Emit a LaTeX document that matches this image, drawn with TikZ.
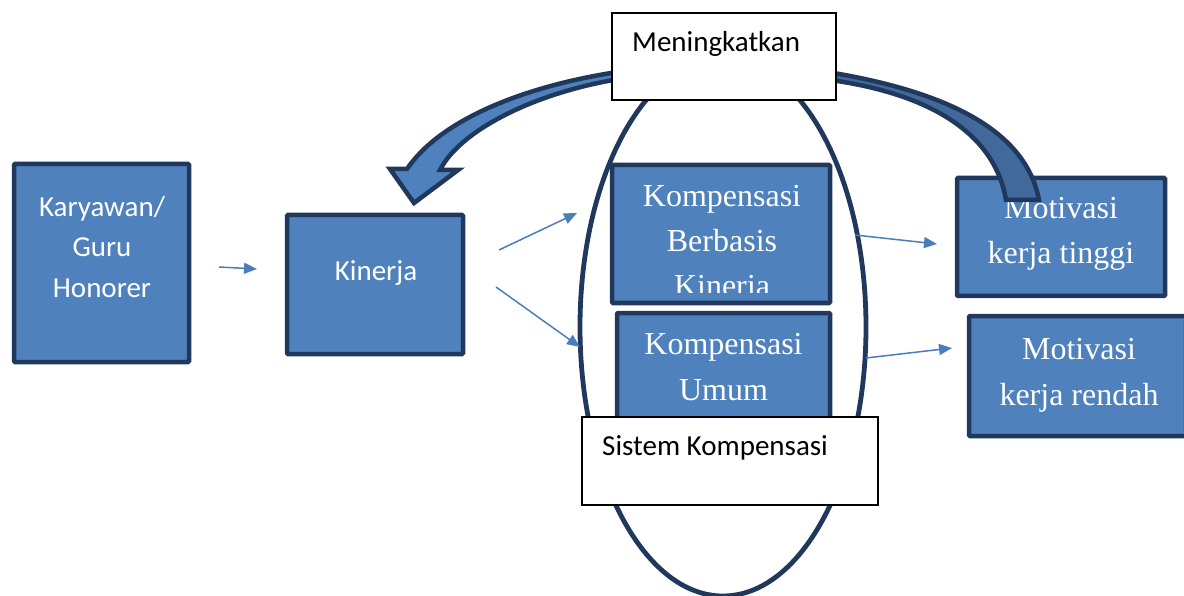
\documentclass[tikz,border=0pt]{standalone}
\usepackage{fontspec}
\setmainfont{Liberation Serif}
\newfontfamily\calfont{Carlito}
\usetikzlibrary{arrows.meta,shapes.geometric}
\definecolor{navy}{RGB}{31,56,91}
\definecolor{boxblue}{RGB}{79,129,189}
\definecolor{darkband}{RGB}{65,105,155}
\definecolor{arrowblue}{RGB}{74,126,187}
\begin{document}
\begin{tikzpicture}[x=1pt,y=-1pt,
  bluebox/.style={draw=navy,line width=4.5pt,fill=boxblue,inner sep=0pt,rounded corners=1pt},
  whitebox/.style={draw=black,line width=1.6pt,fill=white,inner sep=0pt},
  santxt/.style={font=\calfont\fontsize{29}{35}\selectfont,text=white,inner sep=0pt,anchor=base},
  sertxt/.style={font=\fontsize{32}{40}\selectfont,text=white,inner sep=0pt,anchor=base},
  blacktxt/.style={font=\calfont\fontsize{29}{35}\selectfont,text=black,inner sep=0pt,anchor=base west},
  thinarrow/.style={draw=arrowblue,line width=1.5pt,-{Triangle[length=13pt,width=11pt]}},
  band/.style={draw=navy,line width=4.5pt,line join=miter}]
\useasboundingbox (0,0) rectangle (1184,596);

% system ellipse
\node[draw=navy,line width=4.8pt,ellipse,inner sep=0pt,minimum width=286pt,minimum height=538pt] (sys) at (723,327) {};

% blue boxes
\node[bluebox,minimum width=175pt,minimum height=198pt] (kar) at (101.5,263) {};
\node[bluebox,minimum width=176pt,minimum height=139pt] (kin) at (375,284.5) {};
\node[bluebox,minimum width=218pt,minimum height=138pt] (kb) at (721,234) {};
\node[bluebox,minimum width=213pt,minimum height=110pt] (ku) at (723.5,368) {};
\node[bluebox,minimum width=208pt,minimum height=118pt] (mt) at (1061,237) {};
\node[bluebox,minimum width=217pt,minimum height=120pt] (mr) at (1077.5,376) {};

% texts in blue boxes
\node[santxt] (kar1) at (102,217) {Karyawan/};
\node[santxt] (kar2) at (102,257) {Guru};
\node[santxt] (kar3) at (102,298) {Honorer};
\node[santxt] (kin1) at (376,280) {Kinerja};
\begin{scope}
  \clip (612,160) rectangle (830,293);
  \node[sertxt] (kb1) at (722,207) {Kompensasi};
  \node[sertxt] (kb2) at (722,252) {Berbasis};
  \node[sertxt] (kb3) at (722,297) {Kinerja};
\end{scope}
\node[sertxt] (ku1) at (723.5,354) {Kompensasi};
\node[sertxt] (ku2) at (723.5,400) {Umum};
\node[sertxt] (mt1) at (1061,219) {Motivasi};
\node[sertxt] (mt2) at (1061,264) {kerja tinggi};
\node[sertxt] (mr1) at (1079,359) {Motivasi};
\node[sertxt] (mr2) at (1079,405) {kerja rendah};

% curved block arrows
\draw[band,fill=boxblue] (640,69) .. controls (545,80) and (445,113) .. (407,169)
  -- (390,169) -- (414,203) -- (458,170) -- (440,170)
  .. controls (460,130) and (540,88) .. (640,76) -- cycle;
\draw[band,fill=darkband] (815,70) .. controls (935,88) and (1025,125) .. (1039,200)
  -- (1006,200) .. controls (996,140) and (940,92) .. (815,78) -- cycle;

% white boxes
\node[whitebox,minimum width=224pt,minimum height=87pt] (men) at (724,56.5) {};
\node[blacktxt] (mentxt) at (632,52) {Meningkatkan};
\node[whitebox,minimum width=296pt,minimum height=88pt] (sis) at (730,461) {};
\node[blacktxt] (sistxt) at (602,455) {Sistem Kompensasi};

% thin arrows
\coordinate (a1s) at (219,267); \coordinate (a1e) at (257,269);
\coordinate (a2s) at (499,250); \coordinate (a2e) at (577,213);
\coordinate (a3s) at (496,287); \coordinate (a3e) at (580,347);
\coordinate (a4s) at (855,235); \coordinate (a4e) at (937,244);
\coordinate (a5s) at (866,358); \coordinate (a5e) at (952,348);
\draw[thinarrow] (a1s) -- (a1e);
\draw[thinarrow] (a2s) -- (a2e);
\draw[thinarrow] (a3s) -- (a3e);
\draw[thinarrow] (a4s) -- (a4e);
\draw[thinarrow] (a5s) -- (a5e);
\end{tikzpicture}
\end{document}
